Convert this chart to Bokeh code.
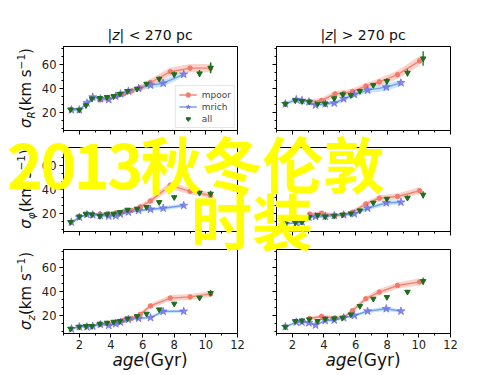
import html
import numpy as np
from bokeh.plotting import figure
from bokeh.models import Range1d, Legend, LegendItem, Div, SingleIntervalTicker, CustomJSTickFormatter
from bokeh.layouts import column, row
from bokeh.embed import file_html
from bokeh.resources import INLINE
from math import pi

# ---------------- data ----------------
AGE_ALL_IN = [1.45, 2.0, 2.42, 2.8, 3.3, 3.75, 4.17, 4.57, 5.05, 5.65, 6.25, 7.05, 8.0, 9.6, 10.3]
AGE_ALL_OUT = [1.56, 2.19, 2.61, 3.07, 3.6, 4.08, 4.65, 5.18, 5.7, 6.27, 7.12, 7.98, 9.28, 10.27]
AGE_RICH_IN = [1.5, 2.0, 2.48, 2.85, 3.33, 3.86, 4.3, 4.6, 5.1, 5.75, 6.5, 7.3, 8.6]
AGE_RICH_OUT = [1.56, 2.25, 2.61, 3.05, 3.47, 4.08, 4.65, 5.25, 5.92, 6.76, 7.94, 8.87]
AGE_POOR_IN = [3.3, 3.8, 4.3, 4.8, 5.3, 5.85, 6.5, 7.75, 9.0, 10.3]
AGE_POOR_OUT = [3.1, 3.85, 4.7, 5.25, 5.8, 6.65, 7.5, 8.65, 10.05]

SR_ALL_IN = [22.5, 22.2, 26.0, 31.5, 32.0, 32.8, 33.6, 35.5, 37.8, 39.7, 43.9, 48.0, 51.7, 52.5, 57.2]
SR_ALL_IN_ERR = [1.5, 1.5, 2.0, 2.0, 1.5, 1.5, 1.5, 1.2, 1.2, 1.2, 1.5, 2.0, 2.5, 3.0, 4.5]
SR_RICH_IN = [22.2, 22.2, 28.0, 32.8, 31.5, 30.8, 33.6, 35.5, 37.8, 40.0, 42.8, 44.4, 51.8]
SR_RICH_IN_BAND = [1.2, 1.2, 1.5, 1.5, 1.5, 1.5, 1.5, 1.5, 1.5, 1.8, 2.5, 3.0, 2.0]
SR_POOR_IN = [30.5, 31.5, 33.5, 35.5, 38.0, 40.5, 45.0, 54.0, 57.0, 57.0]
SR_POOR_IN_BAND = [2.0, 2.0, 2.0, 2.0, 2.0, 2.5, 3.0, 3.5, 3.5, 3.5]
SR_ALL_OUT = [27.2, 30.0, 29.4, 28.9, 27.2, 27.5, 31.7, 35.0, 34.4, 37.8, 42.8, 46.1, 53.0, 65.0]
SR_ALL_OUT_ERR = [2.0, 2.0, 2.0, 2.0, 1.5, 1.5, 2.0, 2.0, 2.0, 2.0, 2.0, 2.5, 3.0, 6.0]
SR_RICH_OUT = [27.2, 30.8, 30.0, 28.9, 26.1, 27.2, 27.8, 31.4, 35.0, 38.6, 41.1, 44.7]
SR_RICH_OUT_BAND = [1.5, 1.5, 1.5, 1.5, 1.5, 1.5, 1.8, 2.0, 2.0, 2.5, 3.0, 2.5]
SR_POOR_OUT = [29.0, 30.0, 35.5, 36.0, 37.5, 42.0, 45.5, 51.5, 63.0]
SR_POOR_OUT_BAND = [2.0, 2.0, 2.5, 2.5, 2.5, 2.5, 3.0, 3.5, 4.0]

SP_ALL_IN = [12.8, 17.5, 19.7, 19.2, 17.8, 19.2, 19.7, 21.1, 23.1, 23.9, 25.3, 29.4, 33.5, 37.2, 36.4]
SP_ALL_IN_ERR = [1.2, 1.2, 1.2, 1.2, 1.2, 1.2, 1.2, 1.2, 1.2, 1.2, 1.2, 1.5, 1.5, 2.0, 2.5]
SP_RICH_IN = [12.8, 16.9, 19.2, 18.9, 18.3, 17.8, 18.0, 19.5, 21.1, 22.5, 23.5, 24.4, 26.7]
SP_RICH_IN_BAND = [1.0, 1.0, 1.2, 1.2, 1.2, 1.2, 1.2, 1.2, 1.2, 1.5, 1.5, 1.8, 1.5]
SP_POOR_IN = [19.5, 20.0, 20.5, 21.5, 22.5, 25.5, 30.5, 43.5, 38.5, 35.0]
SP_POOR_IN_BAND = [1.5, 1.5, 1.5, 1.5, 2.0, 2.0, 2.5, 3.0, 2.5, 2.5]
SP_ALL_OUT = [11.5, 12.5, 13.0, 17.0, 18.5, 17.5, 18.0, 19.0, 20.0, 22.5, 28.9, 32.2, 33.0, 35.6]
SP_ALL_OUT_ERR = [1.2, 1.2, 1.2, 1.5, 1.2, 1.2, 1.2, 1.2, 1.2, 1.2, 1.5, 1.5, 2.0, 3.0]
SP_RICH_OUT = [11.4, 12.2, 13.0, 16.9, 17.5, 17.5, 18.3, 18.9, 19.7, 24.4, 28.9, 29.4]
SP_RICH_OUT_BAND = [1.0, 1.0, 1.0, 1.2, 1.2, 1.2, 1.2, 1.2, 1.5, 1.8, 2.0, 1.8]
SP_POOR_OUT = [19.5, 20.3, 18.5, 19.0, 21.0, 28.0, 32.8, 34.2, 39.0]
SP_POOR_OUT_BAND = [1.5, 1.5, 1.5, 1.5, 2.0, 2.0, 2.5, 2.5, 3.0]

SZ_ALL_IN = [8.9, 10.6, 11.1, 11.1, 13.1, 13.9, 14.7, 15.3, 17.5, 19.4, 21.4, 25.0, 29.8, 34.8, 38.7]
SZ_ALL_IN_ERR = [1.0, 1.0, 1.0, 1.0, 1.0, 1.0, 1.0, 1.0, 1.0, 1.2, 1.2, 1.2, 1.5, 1.5, 2.5]
SZ_RICH_IN = [8.9, 10.6, 10.6, 11.1, 12.5, 11.7, 13.1, 14.5, 16.7, 17.6, 18.2, 23.4, 23.5]
SZ_RICH_IN_BAND = [0.8, 0.8, 0.8, 0.8, 0.8, 0.8, 1.0, 1.0, 1.0, 1.2, 1.2, 1.5, 1.2]
SZ_POOR_IN = [12.5, 13.5, 14.5, 16.0, 17.5, 21.0, 28.0, 34.5, 35.5, 38.0]
SZ_POOR_IN_BAND = [1.2, 1.2, 1.2, 1.5, 1.5, 1.8, 2.0, 2.5, 2.5, 2.5]
SZ_ALL_OUT = [10.6, 15.3, 15.8, 16.7, 15.3, 17.2, 17.5, 18.1, 20.8, 27.8, 33.9, 35.3, 39.7, 48.6]
SZ_ALL_OUT_ERR = [1.0, 1.0, 1.0, 1.0, 1.0, 1.0, 1.0, 1.0, 1.0, 1.2, 1.2, 1.5, 1.5, 3.0]
SZ_RICH_OUT = [10.6, 14.5, 14.5, 13.9, 12.0, 15.8, 16.1, 18.1, 20.0, 23.6, 25.6, 23.6]
SZ_RICH_OUT_BAND = [0.8, 0.8, 0.8, 0.8, 0.8, 1.0, 1.0, 1.0, 1.2, 1.5, 1.8, 1.5]
SZ_POOR_OUT = [17.5, 19.3, 18.0, 18.5, 24.0, 34.0, 39.5, 45.0, 48.0]
SZ_POOR_OUT_BAND = [1.5, 1.5, 1.5, 1.5, 2.0, 2.0, 2.5, 2.5, 3.0]

TITLE_CMP = ["<", ">"]
TITLE_VALUE = "270 pc"
SUBSCRIPTS = ["R", "\u03c6", "z"]
UNIT = "km s"
X_LABEL_VAR = "age"
X_LABEL_UNIT = "(Gyr)"
LEGEND_LABELS = ["mpoor", "mrich", "all"]
OVERLAY_DIGITS = "2013"
OVERLAY_CJK1 = "秋冬伦敦"
OVERLAY_LINE2 = "时装"

# ---------------- style / layout ----------------
FONT = "DejaVu Sans"
POOR_LINE = "#f27b6b"
POOR_BAND = "#f8ae9f"
RICH_LINE = "#6d93ea"
RICH_STAR = "#7a78ee"
RICH_BAND = "#9ed5f6"
ALL_COLOR = "#1d6e1d"
FW, FH = 174, 84
COL_BORDERS = [(63, 19), (20, 50)]          # left, right
ROW_BORDERS = [(46, 8), (9, 9), (9, 40)]    # top, bottom

PANELS = [
    [(AGE_ALL_IN, SR_ALL_IN, SR_ALL_IN_ERR, AGE_RICH_IN, SR_RICH_IN, SR_RICH_IN_BAND, AGE_POOR_IN, SR_POOR_IN, SR_POOR_IN_BAND),
     (AGE_ALL_OUT, SR_ALL_OUT, SR_ALL_OUT_ERR, AGE_RICH_OUT, SR_RICH_OUT, SR_RICH_OUT_BAND, AGE_POOR_OUT, SR_POOR_OUT, SR_POOR_OUT_BAND)],
    [(AGE_ALL_IN, SP_ALL_IN, SP_ALL_IN_ERR, AGE_RICH_IN, SP_RICH_IN, SP_RICH_IN_BAND, AGE_POOR_IN, SP_POOR_IN, SP_POOR_IN_BAND),
     (AGE_ALL_OUT, SP_ALL_OUT, SP_ALL_OUT_ERR, AGE_RICH_OUT, SP_RICH_OUT, SP_RICH_OUT_BAND, AGE_POOR_OUT, SP_POOR_OUT, SP_POOR_OUT_BAND)],
    [(AGE_ALL_IN, SZ_ALL_IN, SZ_ALL_IN_ERR, AGE_RICH_IN, SZ_RICH_IN, SZ_RICH_IN_BAND, AGE_POOR_IN, SZ_POOR_IN, SZ_POOR_IN_BAND),
     (AGE_ALL_OUT, SZ_ALL_OUT, SZ_ALL_OUT_ERR, AGE_RICH_OUT, SZ_RICH_OUT, SZ_RICH_OUT_BAND, AGE_POOR_OUT, SZ_POOR_OUT, SZ_POOR_OUT_BAND)],
]


def make_panel(ri, ci, d):
    left, bottom = ci == 0, ri == 2
    bl, br = COL_BORDERS[ci]
    bt, bb = ROW_BORDERS[ri]
    p = figure(width=bl + FW + br, height=bt + FH + bb,
               x_range=Range1d(1, 12), y_range=Range1d(5, 75),
               output_backend="svg", toolbar_location=None, tools="",
               min_border_left=bl, min_border_right=br, min_border_top=bt, min_border_bottom=bb)
    p.grid.visible = False
    p.outline_line_color = "black"
    p.outline_line_alpha = 1.0
    p.outline_line_width = 1
    p.background_fill_color = "white"
    p.border_fill_color = "white"
    xa, ya = p.xaxis[0], p.yaxis[0]
    xa.ticker = SingleIntervalTicker(interval=2, num_minor_ticks=2)
    ya.ticker = SingleIntervalTicker(interval=20, num_minor_ticks=3)
    for ax in (xa, ya):
        ax.axis_line_color = "black"
        ax.major_tick_out, ax.major_tick_in = 4, 0
        ax.minor_tick_out, ax.minor_tick_in = 2, 0
        ax.major_tick_line_color = "black"
        ax.minor_tick_line_color = "black"
        ax.major_label_text_font = FONT
        ax.major_label_text_font_size = "11.5px"
        ax.major_label_text_color = "#222222"
    xa.major_label_standoff = 2
    ya.major_label_standoff = 3
    for ax, show in ((xa, bottom), (ya, left)):
        if not show:
            ax.formatter = CustomJSTickFormatter(code="return ''")
            ax.major_label_text_font_size = "1px"
            ax.major_label_text_color = None
            ax.major_label_standoff = 0

    a_all, v_all, e_all, a_r, v_r, b_r, a_p, v_p, b_p = [np.array(x, dtype=float) for x in d]

    p.varea(x=a_r, y1=v_r - b_r, y2=v_r + b_r, fill_color=RICH_BAND, fill_alpha=0.6)
    p.varea(x=a_p, y1=v_p - b_p, y2=v_p + b_p, fill_color=POOR_BAND, fill_alpha=0.55)
    l_p = p.line(a_p, v_p, line_color=POOR_LINE, line_width=1.4, line_alpha=0.9)
    s_p = p.scatter(a_p, v_p, marker="circle", size=4.5, fill_color=POOR_LINE, line_color=POOR_LINE)
    l_r = p.line(a_r, v_r, line_color=RICH_LINE, line_width=1.4, line_alpha=0.9)
    s_r = p.scatter(a_r, v_r, marker="star", size=8.5, fill_color=RICH_STAR, line_color="#5f5fd8",
                    fill_alpha=0.85, line_width=0.6)
    p.segment(x0=a_all, y0=v_all - e_all, x1=a_all, y1=v_all + e_all, line_color=ALL_COLOR, line_width=1.3)
    s_a = p.scatter(a_all, v_all, marker="inverted_triangle", size=5.5, fill_color=ALL_COLOR, line_color=ALL_COLOR)

    if ri == 0 and ci == 0:
        s_dash = p.scatter(a_all[-1:], v_all[-1:], marker="dash", angle=pi / 2, size=10,
                           line_color=ALL_COLOR, line_width=1.3)
        leg = Legend(items=[LegendItem(label=LEGEND_LABELS[0], renderers=[l_p, s_p]),
                            LegendItem(label=LEGEND_LABELS[1], renderers=[l_r, s_r]),
                            LegendItem(label=LEGEND_LABELS[2], renderers=[s_dash, s_a])],
                     location="bottom_right", border_line_color="#cccccc", border_line_width=1,
                     background_fill_alpha=0.85, label_text_font=FONT, label_text_font_size="9px",
                     glyph_width=18, glyph_height=11, label_height=11, spacing=1, padding=3,
                     margin=2, label_standoff=5)
        p.add_layout(leg)
    return p


rows = [row(*[make_panel(ri, ci, PANELS[ri][ci]) for ci in range(2)]) for ri in range(3)]

# ---------------- texts outside the plot frames (rich text: italics, sub/superscripts) ----------------
col_left = [COL_BORDERS[0][0], COL_BORDERS[0][0] + FW + COL_BORDERS[0][1] + COL_BORDERS[1][0]]
col_center = [c + FW / 2 for c in col_left]
row_top = []
acc = 0
for bt, bb in ROW_BORDERS:
    row_top.append(acc + bt)
    acc += bt + FH + bb
row_center = [t + FH / 2 for t in row_top]


def span(style, inner):
    return f'<span style="position:absolute;white-space:nowrap;{style}">{inner}</span>'


TXT = f"font-family:'{FONT}';color:#111111;"
parts = []
for ci in range(2):
    parts.append(span(f"{TXT}font-size:14px;line-height:14px;left:{col_center[ci]}px;top:28px;"
                      "transform:translateX(-50%);",
                      f"|<i>z</i>| {html.escape(TITLE_CMP[ci])} {TITLE_VALUE}"))
    parts.append(span(f"{TXT}font-size:17px;line-height:17px;left:{col_center[ci]}px;top:352px;"
                      "transform:translateX(-50%);",
                      f"<i>{X_LABEL_VAR}</i>{X_LABEL_UNIT}"))
for ri in range(3):
    inner = (f"<i>\u03c3</i><span style=\"font-size:10.5px;position:relative;top:3.5px;font-style:italic;\">"
             f"{SUBSCRIPTS[ri]}</span>({UNIT}<span style=\"font-size:10.5px;position:relative;top:-6px;\">"
             f"\u22121</span>)")
    parts.append(span(f"{TXT}font-size:15px;line-height:15px;left:27px;top:{row_center[ri]}px;"
                      "transform:translate(-50%,-50%) rotate(-90deg);", inner))

BIG = ("font-family:'Noto Sans CJK SC';font-weight:bold;font-size:61px;line-height:54px;color:#ffff00;")
parts.append(span(f"{BIG}left:7px;top:136px;",
                  f"<span style=\"letter-spacing:-2.6px;\">{OVERLAY_DIGITS}</span>{OVERLAY_CJK1}"))
parts.append(span(f"{BIG}left:191px;top:193px;", OVERLAY_LINE2))

overlay_html = ('<div style="position:relative;width:500px;height:375px;pointer-events:none;">'
                + "".join(parts) + "</div>")
overlay = Div(text=overlay_html, width=500, height=375, margin=(0, 0, 0, 0),
              styles={"position": "absolute", "left": "0px", "top": "0px", "z-index": "10",
                      "pointer-events": "none"})

layout = column(*rows, overlay)

with open("out.html", "w") as f:
    f.write(file_html(layout, INLINE))
